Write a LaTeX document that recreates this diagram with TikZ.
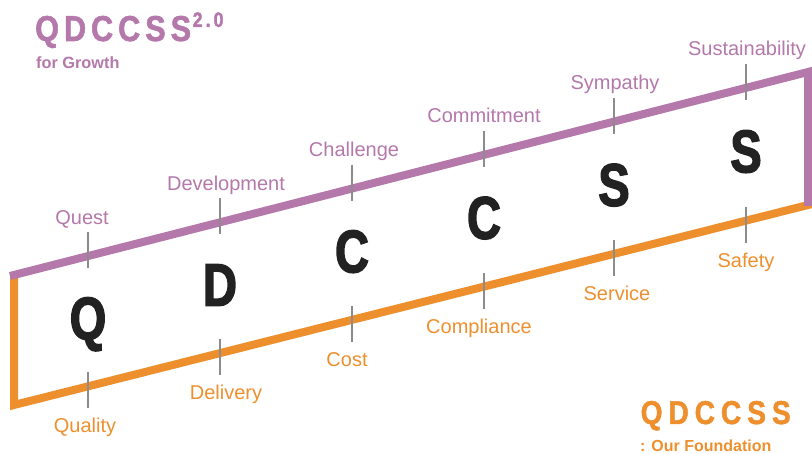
\documentclass[tikz,border=0pt]{standalone}
\usepackage{fontspec}
\setmainfont{Liberation Sans}
\newfontfamily\letterfont[FakeStretch=0.78, BoldFeatures={FakeBold=2.5}]{Liberation Sans}
\newfontfamily\titlefont[FakeStretch=0.85, BoldFeatures={FakeBold=1.5}]{Liberation Sans}
\definecolor{qpurple}{RGB}{180,120,171}
\definecolor{qorange}{RGB}{238,143,46}
\definecolor{qink}{RGB}{34,34,34}
\definecolor{qtick}{RGB}{140,140,140}
\begin{document}
\begin{tikzpicture}[x=1pt,y=-1pt,
  band/.style={line width=8pt, line join=miter},
  tickline/.style={draw=qtick, line width=1.1pt},
  toplabel/.style={text=qpurple, font=\fontsize{20}{20}\selectfont, anchor=base, inner sep=0pt},
  botlabel/.style={text=qorange, font=\fontsize{20}{20}\selectfont, anchor=base, inner sep=0pt},
  bigletter/.style={text=qink, font=\letterfont\bfseries\fontsize{60}{60}\selectfont, anchor=base, inner sep=0pt},
  titletext/.style={anchor=base west, inner sep=0pt}]
\useasboundingbox (0,0) rectangle (812,454);
% frame
\coordinate (OL) at (14,275);
\coordinate (BL) at (14,405);
\coordinate (BR) at (812,204);
\coordinate (TL) at (10,276);
\coordinate (TR) at (808,72);
\coordinate (RB) at (808,206);
\draw[band, qorange] (OL) -- (BL) -- (BR);
\draw[band, qpurple] (TL) -- (TR) -- (RB);
% ticks, labels, letters
\foreach \x/\yt/\yb/\tl/\bl/\L/\tx/\bx [count=\i] in {
  88/256.1/386.4/Quest/Quality/Q/82/85,
  220/222.3/353.1/Development/Delivery/D/226/226,
  352/188.6/319.9/Challenge/Cost/C/354/347,
  484/154.8/286.6/Commitment/Compliance/C/484/479,
  614/121.6/253.9/Sympathy/Service/S/615/617,
  746/87.8/220.6/Sustainability/Safety/S/747/746}{
  \coordinate (ta\i) at (\x,\yt-24);
  \coordinate (tb\i) at (\x,\yt+12);
  \coordinate (ba\i) at (\x,\yb-14);
  \coordinate (bb\i) at (\x,\yb+22);
  \draw[tickline] (ta\i) -- (tb\i);
  \draw[tickline] (ba\i) -- (bb\i);
  \node[toplabel] (tl\i) at (\tx,\yt-32) {\tl};
  \node[botlabel] (bl\i) at (\bx,\yb+46.5) {\bl};
  \node[bigletter] (L\i) at (\x,{(\yt+\yb)/2+18}) {\L};
}
% titles
\node[titletext, text=qpurple, font=\titlefont\bfseries\fontsize{36}{36}\selectfont] (title) at (35,41)
  {Q\kern5pt D\kern5pt C\kern5pt C\kern5pt S\kern5pt S};
\node[titletext, text=qpurple, font=\titlefont\bfseries\fontsize{21}{21}\selectfont] (ver) at (192.5,27)
  {2\kern3pt.\kern3pt0};
\node[titletext, text=qpurple, font=\bfseries\fontsize{16.3}{16.3}\selectfont] (growth) at (36,68.5) {for Growth};
\node[titletext, text=qorange, font=\titlefont\bfseries\fontsize{33}{33}\selectfont] (found) at (640.5,424)
  {Q\kern6pt D\kern6pt C\kern6pt C\kern6pt S\kern6pt S};
\node[titletext, text=qorange, font=\bfseries\fontsize{16}{16}\selectfont] (ourf) at (640,452) {: Our Foundation};
\end{tikzpicture}
\end{document}
